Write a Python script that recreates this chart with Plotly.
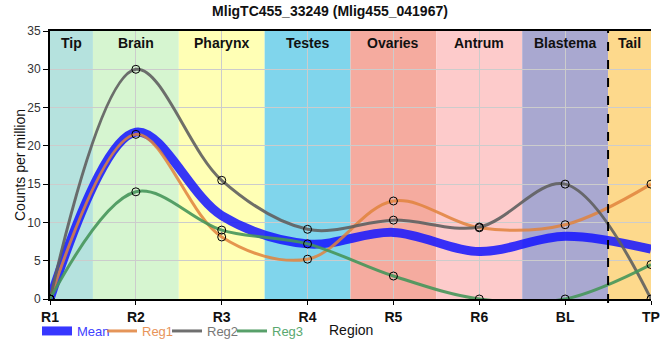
import plotly.graph_objects as go

categories = ["R1", "R2", "R3", "R4", "R5", "R6", "BL", "TP"]
reg1 = [0, 21.5, 8.1, 5.2, 12.8, 9.3, 9.7, 15.0]
reg2 = [0, 30.0, 15.5, 9.1, 10.3, 9.4, 15.0, 0]
reg3 = [0, 14.0, 9.0, 7.2, 3.0, 0, 0, 4.5]
mean = [0, 21.8, 10.9, 7.2, 8.7, 6.2, 8.2, 6.5]

regions = ["Tip", "Brain", "Pharynx", "Testes", "Ovaries", "Antrum", "Blastema", "Tail"]
region_colors = ["#b5e2de", "#d6f5d0", "#ffffb5", "#80d5ec", "#f5ab9f", "#fdcbcb", "#a9a8d0", "#fdd98c"]
region_bounds = [(0, 0.5), (0.5, 1.5), (1.5, 2.5), (2.5, 3.5), (3.5, 4.5), (4.5, 5.5), (5.5, 6.5), (6.5, 7)]

xs = list(range(len(categories)))
NARROW = "Liberation Sans Narrow, Arial Narrow, Liberation Sans, Arial"
SANS = "Liberation Sans, Arial"
SMOOTH = 1.0

fig = go.Figure()

fig.add_trace(go.Scatter(
    x=xs, y=mean, mode="lines", line=dict(color="rgba(20,20,255,0.85)", width=9, shape="spline", smoothing=SMOOTH),
    name="<span style='color:#4040ff'>Mean</span>"))

series = [("Reg1", reg1, "rgba(224,130,60,0.85)", "#e8945a"),
          ("Reg2", reg2, "rgba(95,95,95,0.9)", "#777777"),
          ("Reg3", reg3, "rgba(70,150,90,0.9)", "#5aa870")]
for name, vals, col, tcol in series:
    fig.add_trace(go.Scatter(
        x=xs, y=vals, mode="lines",
        line=dict(color=col, width=3, shape="spline", smoothing=SMOOTH),
        name=f"<span style='color:{tcol}'>{name}</span>"))
for name, vals, col, tcol in series:
    fig.add_trace(go.Scatter(
        x=xs, y=vals, mode="markers", showlegend=False, hoverinfo="skip",
        marker=dict(symbol="circle", size=8, color="rgba(0,0,0,0)", line=dict(color="black", width=1))))
# blank legend spacer so the last legend label is not clipped
fig.add_trace(go.Scatter(x=[None], y=[None], mode="lines", line=dict(width=0, color="rgba(0,0,0,0)"),
                         name=" ", hoverinfo="skip"))

shapes = []
for (x0, x1), c in zip(region_bounds, region_colors):
    shapes.append(dict(type="rect", xref="x", yref="paper", x0=x0, x1=x1, y0=0, y1=1,
                       fillcolor=c, line=dict(width=0), layer="below"))
shapes.append(dict(type="line", xref="x", yref="paper", x0=6.5, x1=6.5, y0=-0.015, y1=1,
                   line=dict(color="black", width=2, dash="dash")))

annotations = []
for (x0, x1), r in zip(region_bounds, regions):
    annotations.append(dict(x=(x0 + x1) / 2, y=1, xref="x", yref="paper", yanchor="top",
                            text=f"<b>{r}</b>", showarrow=False, yshift=-2,
                            font=dict(family=NARROW, size=14, color="#111")))
annotations.append(dict(x=0.5, y=-(330 - 299) / 268, xref="paper", yref="paper", yanchor="middle",
                        text="Region", showarrow=False,
                        font=dict(family=NARROW, size=14, color="#111")))
annotations.append(dict(x=(20 - 50) / 601, y=0.5, xref="paper", yref="paper", xanchor="center",
                        yanchor="middle", textangle=-90, text="Counts per million", showarrow=False,
                        font=dict(family=SANS, size=14, color="#111")))

fig.update_layout(
    width=660, height=360,
    margin=dict(l=50, r=9, t=31, b=61, autoexpand=False),
    paper_bgcolor="white", plot_bgcolor="white",
    title=dict(text="<b>MligTC455_33249 (Mlig455_041967)</b>", x=0.5, xanchor="center",
               y=1 - 11 / 360, yanchor="middle", pad=dict(t=0, b=0),
               font=dict(family=NARROW, size=14, color="#111")),
    shapes=shapes, annotations=annotations,
    showlegend=True,
    legend=dict(orientation="h", xref="container", yref="container",
                x=37 / 660, xanchor="left", y=1 - 331 / 360, yanchor="middle",
                font=dict(family=NARROW, size=13), bgcolor="rgba(0,0,0,0)", itemwidth=30,
                entrywidth=20, entrywidthmode="pixels", tracegroupgap=0),
    xaxis=dict(range=[0, 7], tickvals=xs, ticktext=[f"<b>{c}</b>" for c in categories],
               automargin=False,
               showgrid=True, gridcolor="#cccccc", gridwidth=1, zeroline=False,
               showline=True, linecolor="black", linewidth=2, mirror=True,
               ticks="outside", ticklen=4, tickcolor="black",
               tickfont=dict(family=NARROW, size=14, color="#111")),
    yaxis=dict(range=[0, 35], dtick=5, showgrid=True, gridcolor="#cccccc", zeroline=False,
               automargin=False,
               showline=True, linecolor="black", linewidth=2,
               ticks="outside", ticklen=5, tickcolor="black",
               tickfont=dict(family=SANS, size=12, color="#333")),
)

fig.write_html("out.html", config={"displayModeBar": False},
               post_script="document.body.style.margin='0';")
